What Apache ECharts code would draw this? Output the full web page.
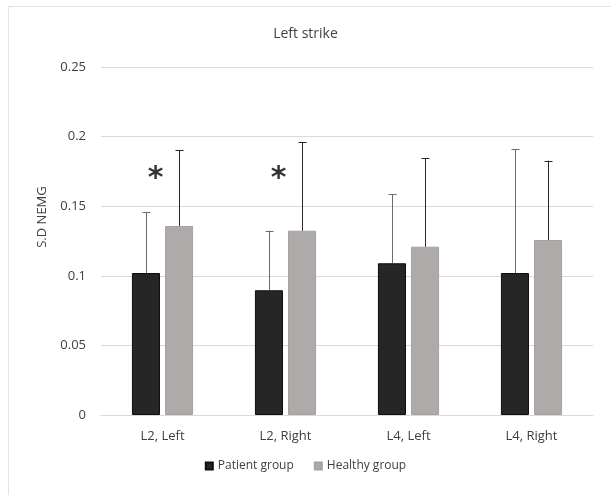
<!DOCTYPE html>
<html>
<head>
<meta charset="utf-8">
<script src="https://cdn.jsdelivr.net/npm/echarts@6/dist/echarts.min.js"></script>
<style>
  html, body { margin: 0; padding: 0; background: #fff; }
  #main { width: 611px; height: 495px; }
</style>
</head>
<body>
<div id="main"></div>
<script>
// 数据
var categories = ['L2, Left', 'L2, Right', 'L4, Left', 'L4, Right'];
var patientMean = [0.102, 0.0896, 0.109, 0.102];
var patientUpper = [0.1456, 0.1324, 0.1585, 0.1909];
var healthyMean = [0.1358, 0.1324, 0.1209, 0.1257];
var healthyUpper = [0.1904, 0.1961, 0.1846, 0.1827];
var starMarks = [[0, 0.174], [1, 0.174]];   // 显著性标记 *
var yTicks = [0, 0.05, 0.1, 0.15, 0.2, 0.25];

var chart = echarts.init(document.getElementById('main'));

// 误差线 (只画上半部分)
function errorBar(seriesIdx, color) {
	return function(params, api) {
		var idx = api.value(0);
		var mean = api.coord([idx, api.value(1)]);
		var top = api.coord([idx, api.value(2)]);
		var band = api.size([1, 0])[0];
		var barW = band * 0.228;
		var gap = barW * 0.18;
		var off = seriesIdx === 0 ? -(gap / 2 + barW / 2) : (gap / 2 + barW / 2);
		var x = Math.round(mean[0] + off) + 0.5;
		var half = 4;
		return {
			type: 'group',
			children: [{
				type: 'line',
				shape: { x1: x, y1: mean[1], x2: x, y2: top[1] },
				style: { stroke: color, lineWidth: 1 }
			}, {
				type: 'line',
				shape: { x1: x - half, y1: Math.round(top[1]) + 0.5, x2: x + half, y2: Math.round(top[1]) + 0.5 },
				style: { stroke: color, lineWidth: 1 }
			}]
		};
	};
}

var option = {
	animation: false,
	textStyle: { fontFamily: 'Open Sans' },
	title: {
		text: 'Left strike',
		left: 'center',
		top: 22,
		textStyle: { fontSize: 14, fontWeight: 'normal', color: '#404040', fontFamily: 'Open Sans' }
	},
	graphic: [{
		type: 'rect',
		shape: { x: 8.5, y: 6.5, width: 700, height: 600 },
		style: { fill: 'none', stroke: '#e3e3e3', lineWidth: 1 },
		silent: true
	}],
	legend: {
		bottom: 18,
		left: 'center',
		itemWidth: 7,
		itemHeight: 7,
		itemGap: 20,
		icon: 'rect',
		textStyle: { fontSize: 12, color: '#404040' },
		data: ['Patient group', 'Healthy group']
	},
	grid: { left: 101, right: 18, top: 67, bottom: 80 },
	xAxis: {
		type: 'category',
		data: categories,
		axisTick: { show: false },
		axisLine: { lineStyle: { color: '#d9d9d9' } },
		axisLabel: { color: '#404040', fontSize: 13, margin: 15 }
	},
	yAxis: {
		type: 'value',
		min: 0,
		max: 0.25,
		interval: 0.05,
		name: 'S.D NEMG',
		nameLocation: 'middle',
		nameGap: 52,
		nameTextStyle: { color: '#404040', fontSize: 13, padding: [0, 0, 0, 48] },
		axisLine: { show: false },
		axisTick: { show: false },
		splitLine: { lineStyle: { color: '#d9d9d9' } },
		axisLabel: {
			color: '#404040', fontSize: 13, margin: 15,
			formatter: function(v) {
				for (var i = 0; i < yTicks.length; i++) {
					if (Math.abs(yTicks[i] - v) < 1e-9) return String(yTicks[i]);
				}
				return '';
			}
		}
	},
	series: [{
		name: 'Patient group',
		type: 'bar',
		data: patientMean,
		barWidth: '22.8%',
		barGap: '18%',
		itemStyle: { color: '#262626', borderColor: '#0d0d0d', borderWidth: 1 }
	}, {
		name: 'Healthy group',
		type: 'bar',
		data: healthyMean,
		barWidth: '22.8%',
		itemStyle: { color: '#aeaaaa', borderColor: '#a6a2a2', borderWidth: 1 }
	}, {
		type: 'custom',
		renderItem: errorBar(0, '#6b6b6b'),
		data: patientMean.map(function(v, i) { return [i, v, patientUpper[i]]; }),
		z: 10,
		silent: true
	}, {
		type: 'custom',
		renderItem: errorBar(1, '#262626'),
		data: healthyMean.map(function(v, i) { return [i, v, healthyUpper[i]]; }),
		z: 10,
		silent: true
	}, {
		type: 'scatter',
		data: starMarks,
		symbolSize: 0,
		silent: true,
		label: {
			show: true,
			formatter: '*',
			position: 'inside',
			offset: [-7, 6],
			fontSize: 30,
			fontWeight: 'bold',
			color: '#000',
			fontFamily: 'DejaVu Sans'
		}
	}]
};

chart.setOption(option);
</script>
</body>
</html>
